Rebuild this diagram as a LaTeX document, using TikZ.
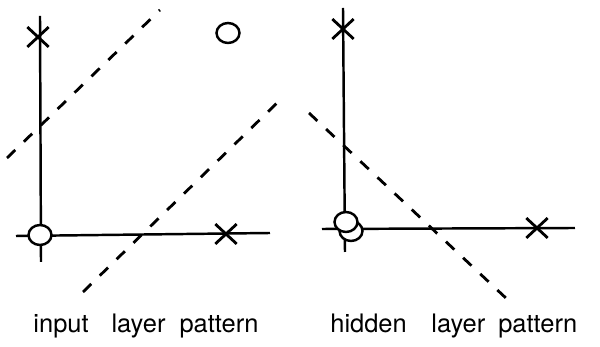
\documentclass[tikz,border=0pt]{standalone}
\usepackage{fontspec}
\setmainfont{TeX Gyre Heros}
\usetikzlibrary{shapes.geometric, shapes.misc}

\begin{document}
\begin{tikzpicture}[
    x=0.02cm, y=-0.02cm,
    axis/.style={line width=1.4pt},
    sep/.style={line width=1.6pt, dash pattern=on 2.3mm off 2.4mm},
    xmark/.style={cross out, draw, line width=1.6pt, minimum width=3.7mm, minimum height=3.4mm, inner sep=0pt},
    omark/.style={ellipse, draw, fill=white, line width=1.4pt, minimum width=4.6mm, minimum height=4.0mm, inner sep=0pt},
    caption/.style={anchor=base west, inner sep=0pt, font=\fontsize{14.5pt}{17pt}\selectfont}
]
\useasboundingbox (0,0) rectangle (600,347);

% --- Input layer pattern ---
\coordinate (iyt) at (40,16);
\coordinate (iyb) at (41,262);
\coordinate (ixl) at (16,236);
\coordinate (ixr) at (270,233);
\draw[axis] (iyt) -- (iyb);
\draw[axis] (ixl) -- (ixr);

% separating lines
\coordinate (ia1) at (7,158);
\coordinate (ib1) at (160,10);
\coordinate (ia2) at (83,292);
\coordinate (ib2) at (277,103);
\draw[sep] (ia1) -- (ib1);
\draw[sep] (ia2) -- (ib2);

% patterns
\node[omark] (i00) at (40,235) {};
\node[xmark] (i01) at (38,37) {};
\node[xmark] (i10) at (226,234) {};
\node[omark] (i11) at (228,33) {};

% --- Hidden layer pattern ---
\coordinate (hyt) at (343,8);
\coordinate (hyb) at (345,252);
\coordinate (hxl) at (322,229);
\coordinate (hxr) at (575,228);
\draw[axis] (hyt) -- (hyb);
\draw[axis] (hxl) -- (hxr);

% separating line
\coordinate (ha) at (309,113);
\coordinate (hb) at (508,300);
\draw[sep] (ha) -- (hb);

% patterns (two circles nearly on top of each other)
\node[omark] (h11) at (351,231) {};
\node[omark] (h00) at (346,222) {};
\node[xmark] (h01) at (343,29) {};
\node[xmark] (h10) at (537,228) {};

% captions
\node[caption] (inlbl) at (33,333) {input\hspace{13pt}layer\hspace{8pt}pattern};
\node[caption] (hidlbl) at (330,333) {hidden\hspace{14pt}layer\hspace{7.4pt}pattern};

\end{tikzpicture}
\end{document}
